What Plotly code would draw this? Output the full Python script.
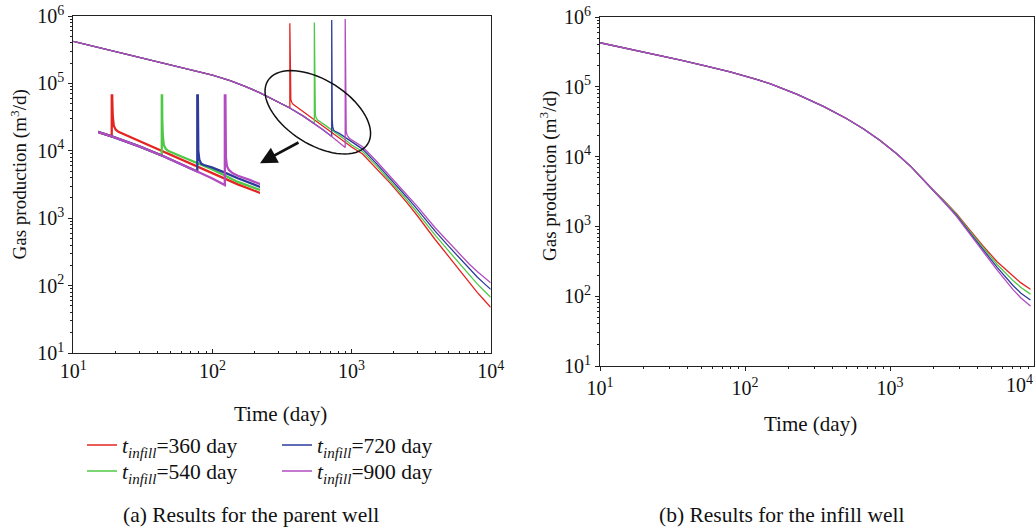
import numpy as np
import plotly.graph_objects as go

# ---------------- data ----------------
series_names = ["360", "540", "720", "900"]
colors = ["#e52421", "#4fc845", "#2d3b9c", "#b24cc0"]

# Parent well: shared curve before any infill
t_base = [10, 15, 20, 30, 42, 60, 81.5, 100, 134, 170, 220, 280, 360, 450, 540, 630, 720, 810, 900]
q_base = [420000, 343000, 299000, 246000, 210000, 176000, 150000, 133000, 110000, 91400, 72400,
          56900, 43200, 32700, 25400, 20200, 16300, 13500, 11200]

# Parent well after the infill date (spike + decline)
red_t_post = [360, 361.5, 363, 366, 372, 380, 450, 540, 630, 720, 810, 900, 1000, 1200, 1500, 1900,
              2500, 3000, 4000, 5000, 6000, 7000, 8000, 9000, 10000]
red_q_post = [780000, 120000, 75000, 58000, 52000, 49000, 38000, 28900, 22900, 18700, 15700, 13400,
              11400, 8970, 5600, 3290, 1700, 1060, 479, 269, 166, 110, 79.4, 60.7, 47.6]

green_t_post = [540, 542, 544.5, 549, 558, 570, 630, 720, 810, 900, 1000, 1200, 1500, 1900, 2500,
                3000, 4000, 5000, 6000, 7000, 8000, 9000, 10000]
green_q_post = [800000, 71000, 43700, 33900, 30400, 28700, 24900, 20600, 17400, 14600, 12200, 9750,
                6070, 3560, 1860, 1180, 555, 324, 207, 142, 106, 83, 67]

blue_t_post = [720, 723, 726, 732, 744, 760, 810, 900, 1000, 1200, 1500, 1900, 2500, 3000, 4000,
               5000, 6000, 7000, 8000, 9000, 10000]
blue_q_post = [870000, 46800, 29100, 22500, 20200, 19500, 18300, 15800, 13500, 10600, 6560, 3850,
               2050, 1320, 637, 382, 251, 177, 134, 107, 88]

purple_t_post = [900, 904, 908, 915, 930, 960, 1000, 1100, 1200, 1500, 1900, 2500, 3000, 4000, 5000,
                 6000, 7000, 8000, 9000, 10000]
purple_q_post = [900000, 35000, 24000, 19000, 17000, 15500, 14500, 12900, 11500, 7110, 4140, 2240,
                 1460, 716, 437, 292, 209, 162, 132, 110]

infill_dates = [360, 540, 720, 900]
post_t = [red_t_post, green_t_post, blue_t_post, purple_t_post]
post_q = [red_q_post, green_q_post, blue_q_post, purple_q_post]

# Infill well: shared early curve, then the four cases
t_inf_common = [10, 16, 25, 36, 55, 79, 120, 150, 227, 350, 500, 654, 850, 1112, 1400, 1655, 2000]
q_inf_common = [428000, 348000, 285000, 241000, 196000, 163000, 128000, 110000, 78700, 52000, 35200,
                25100, 17200, 11000, 7130, 4900, 3270]
t_inf_tail = [2328, 2884, 3500, 4395, 5500, 7080, 8000, 9300]
q_inf_red = [2420, 1510, 923, 520, 309, 190, 155, 126]
q_inf_green = [2390, 1470, 881, 492, 282, 166, 133, 107]
q_inf_blue = [2360, 1420, 841, 465, 257, 141, 110, 88.3]
q_inf_purple = [2330, 1380, 804, 441, 234, 123, 94.4, 72.4]
q_inf_tails = [q_inf_red, q_inf_green, q_inf_blue, q_inf_purple]

x_ticks = [10, 100, 1000, 10000]
x_ticktext = ["10<sup>1</sup>", "10<sup>2</sup>", "10<sup>3</sup>", "10<sup>4</sup>"]
y_ticks = [10, 100, 1000, 10000, 100000, 1000000]
y_ticktext = ["10<sup>1</sup>", "10<sup>2</sup>", "10<sup>3</sup>", "10<sup>4</sup>", "10<sup>5</sup>",
              "10<sup>6</sup>"]
legend_ids = ["legend", "legend3", "legend2", "legend4"]

# ---------------- figure ----------------
W, H = 1035, 532
FONT = "Liberation Serif"
INK = "#111"


def px(x):
    return x / W


def py(y):
    return 1 - y / H


fig = go.Figure()

for i, name in enumerate(series_names):
    d = infill_dates[i]
    t_full = [t for t in t_base if t <= d] + post_t[i]
    q_full = [q for t, q in zip(t_base, q_base) if t <= d] + post_q[i]
    label = "<i>t</i><sub><i>infill</i></sub>=" + name + " day"
    fig.add_trace(go.Scatter(x=t_full, y=q_full, mode="lines", name=label,
                             line=dict(color=colors[i], width=1.3),
                             xaxis="x", yaxis="y", legend=legend_ids[i]))
    # magnified inset of the same data
    fig.add_trace(go.Scatter(x=t_full, y=q_full, mode="lines", showlegend=False,
                             line=dict(color=colors[i], width=2.3),
                             xaxis="x3", yaxis="y3", hoverinfo="skip"))

for i, name in enumerate(series_names):
    fig.add_trace(go.Scatter(x=t_inf_common + t_inf_tail, y=q_inf_common + q_inf_tails[i],
                             mode="lines", showlegend=False,
                             line=dict(color=colors[i], width=1.3),
                             xaxis="x2", yaxis="y2"))

minor_x = [k * 10 ** n for n in range(1, 4) for k in range(2, 10)]
minor_y = [k * 10 ** n for n in range(1, 6) for k in range(2, 10)]

axis_common = dict(type="log", showgrid=False, zeroline=False, showline=True, linecolor="#222",
                   linewidth=1.2, mirror=True, tickcolor="#222", ticklen=4, tickwidth=1,
                   automargin=False, tickfont=dict(family=FONT, size=20, color=INK))

legend_common = dict(orientation="v", xanchor="left", yanchor="middle", itemwidth=30,
                     font=dict(family=FONT, size=21.5, color=INK), bgcolor="rgba(0,0,0,0)",
                     tracegroupgap=0, borderwidth=0)

fig.update_layout(
    template="none",
    width=W, height=H,
    margin=dict(l=0, r=0, t=0, b=0, pad=0, autoexpand=False),
    paper_bgcolor="white", plot_bgcolor="rgba(0,0,0,0)",
    font=dict(family=FONT, size=20, color=INK),
    xaxis=dict(axis_common, domain=[px(73.3), px(490.7)], range=[1, 4], anchor="y",
               tickvals=x_ticks, ticktext=x_ticktext, ticks="inside",
               minor=dict(tickvals=minor_x, ticks="inside", ticklen=2, tickcolor="#222")),
    yaxis=dict(axis_common, domain=[py(353), py(16)], range=[1, 6], anchor="x",
               tickvals=y_ticks, ticktext=y_ticktext, ticks="outside",
               minor=dict(tickvals=minor_y, ticks="outside", ticklen=2, tickcolor="#222")),
    xaxis2=dict(axis_common, domain=[px(600), px(1034)], range=[1, 3.993], anchor="y2",
                tickvals=x_ticks, ticktext=x_ticktext, ticks="outside",
                minor=dict(tickvals=minor_x, ticks="outside", ticklen=2, tickcolor="#222")),
    yaxis2=dict(axis_common, domain=[py(366), py(17)], range=[1, 6], anchor="x2",
                tickvals=y_ticks, ticktext=y_ticktext, ticks="outside",
                minor=dict(tickvals=minor_y, ticks="outside", ticklen=2, tickcolor="#222")),
    xaxis3=dict(type="log", domain=[px(98.3), px(260)], range=[2.509, 3.078], visible=False,
                anchor="y3", automargin=False),
    yaxis3=dict(type="log", domain=[py(196), py(94.3)], range=[3.917, 5.142], visible=False,
                anchor="x3", automargin=False),
    legend=dict(legend_common, x=px(82), y=py(445)),
    legend3=dict(legend_common, x=px(82), y=py(471)),
    legend2=dict(legend_common, x=px(277), y=py(445)),
    legend4=dict(legend_common, x=px(277), y=py(471)),
    showlegend=True,
)

# rotated ellipse around the infill region (decoration)
cx, cy, a, b, th = 317.8, 112.3, 59.1, 32.1, np.deg2rad(32.4)
ang = np.linspace(0, 2 * np.pi, 73)
ex = cx + a * np.cos(ang) * np.cos(th) - b * np.sin(ang) * np.sin(th)
ey = cy + a * np.cos(ang) * np.sin(th) + b * np.sin(ang) * np.cos(th)
path = "M " + " L ".join(f"{px(x):.5f},{py(y):.5f}" for x, y in zip(ex, ey)) + " Z"
fig.add_shape(type="path", path=path, xref="paper", yref="paper",
              line=dict(color=INK, width=1.5))

center = dict(showarrow=False, xref="paper", yref="paper", xanchor="center", yanchor="middle")
annotations = [
    dict(x=px(260), y=py(163.3), ax=40, ay=-21.6, xref="paper", yref="paper", text="",
         showarrow=True, arrowhead=2, arrowsize=1.3, arrowwidth=2.6, arrowcolor=INK),
    dict(center, x=px(280), y=py(414), text="Time (day)", font=dict(size=21)),
    dict(center, x=px(810), y=py(424), text="Time (day)", font=dict(size=21)),
    dict(center, x=px(18.5), y=py(175), text="Gas production (m<sup>3</sup>/d)", textangle=-90,
         font=dict(size=19)),
    dict(center, x=px(548), y=py(176), text="Gas production (m<sup>3</sup>/d)", textangle=-90,
         font=dict(size=19)),
    dict(x=px(1035), y=py(366), text="10<sup>4</sup>", showarrow=False, xref="paper",
         yref="paper", xanchor="right", yanchor="top", yshift=-4, font=dict(size=20)),
    dict(center, x=px(250.5), y=py(515), text="(a) Results for the parent well",
         font=dict(size=21.5)),
    dict(center, x=px(781.7), y=py(515), text="(b) Results for the infill well",
         font=dict(size=21.5)),
]
fig.update_layout(annotations=annotations)

fig.write_html("out.html", config={"displayModeBar": False},
               post_script="document.body.style.margin='0';document.body.style.overflow='hidden';")
